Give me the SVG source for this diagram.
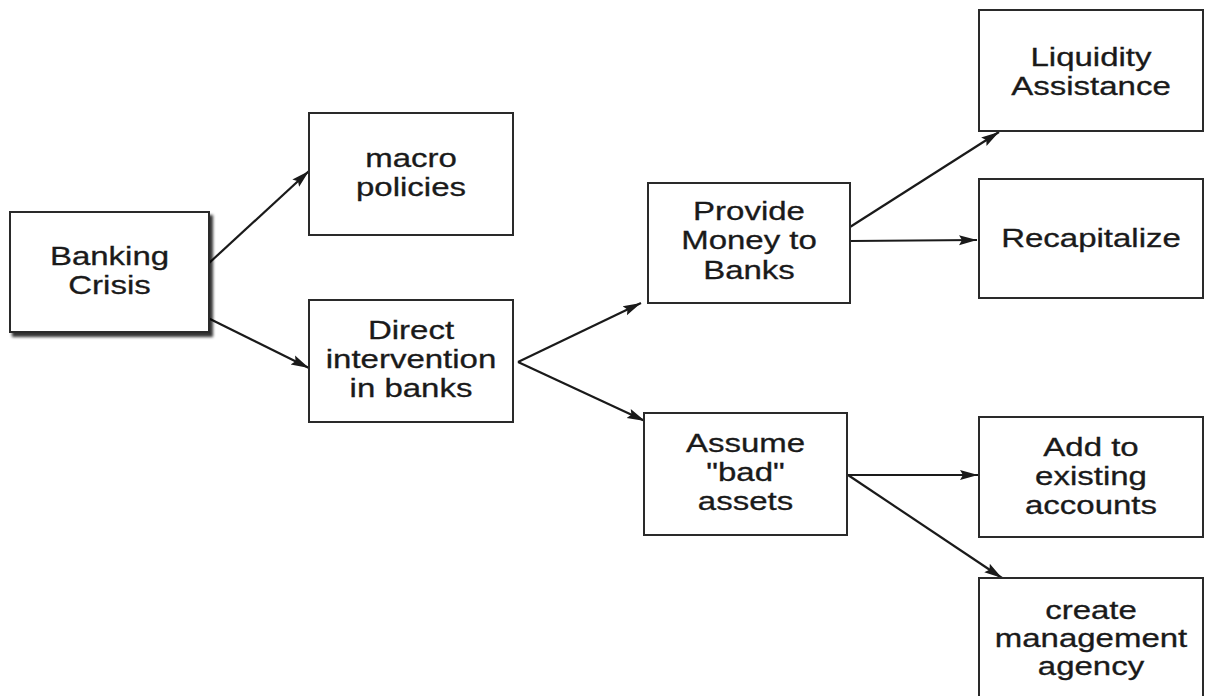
<svg xmlns="http://www.w3.org/2000/svg" width="1206" height="696" viewBox="0 0 1206 696">
<style>
.box{fill:#fff;stroke:#2a2a2a;stroke-width:2}
.lbl{font-family:"Liberation Sans",Arial,sans-serif;font-size:25px;fill:#1a1a1a;stroke:#1a1a1a;stroke-width:0.3;text-anchor:middle}
.conn line{stroke:#1a1a1a;stroke-width:2.2;fill:none}
</style>
<defs>
<marker id="ah" markerUnits="userSpaceOnUse" markerWidth="20" markerHeight="12" refX="18" refY="6" orient="auto">
<path d="M0,1 L18,6 L0,11 L3,6 Z" fill="#1a1a1a"/>
</marker>
<filter id="sh" x="-10%" y="-10%" width="130%" height="130%">
<feDropShadow dx="3" dy="4" stdDeviation="1.5" flood-color="#000" flood-opacity="0.8"/>
</filter>
</defs>
<rect width="1206" height="696" fill="#fff"/>
<g class="conn">
<line x1="208" y1="264" x2="309" y2="171" marker-end="url(#ah)"/>
<line x1="208" y1="318" x2="309" y2="368" marker-end="url(#ah)"/>
<line x1="518" y1="362" x2="641" y2="303" marker-end="url(#ah)"/>
<line x1="518" y1="362" x2="645" y2="421" marker-end="url(#ah)"/>
<line x1="850" y1="227" x2="999" y2="132" marker-end="url(#ah)"/>
<line x1="851" y1="241" x2="977" y2="240" marker-end="url(#ah)"/>
<line x1="848" y1="475" x2="978" y2="475" marker-end="url(#ah)"/>
<line x1="848" y1="475" x2="1002" y2="578" marker-end="url(#ah)"/>
</g>
<g id="banking-crisis">
<rect class="box" x="10" y="212" width="199" height="120" filter="url(#sh)"/>
<text class="lbl" transform="translate(109.5,0) scale(1.32,1)"><tspan x="0" y="265">Banking</tspan><tspan x="0" y="294">Crisis</tspan></text>
</g>
<g id="macro-policies">
<rect class="box" x="309" y="113" width="204" height="122"/>
<text class="lbl" transform="translate(411,0) scale(1.32,1)"><tspan x="0" y="167">macro</tspan><tspan x="0" y="196">policies</tspan></text>
</g>
<g id="direct-intervention">
<rect class="box" x="309" y="300" width="204" height="122"/>
<text class="lbl" transform="translate(411,0) scale(1.32,1)"><tspan x="0" y="339">Direct</tspan><tspan x="0" y="368">intervention</tspan><tspan x="0" y="397">in banks</tspan></text>
</g>
<g id="provide-money">
<rect class="box" x="648" y="183" width="202" height="120"/>
<text class="lbl" transform="translate(749,0) scale(1.32,1)"><tspan x="0" y="220">Provide</tspan><tspan x="0" y="249">Money to</tspan><tspan x="0" y="279">Banks</tspan></text>
</g>
<g id="assume-bad-assets">
<rect class="box" x="644" y="413" width="203" height="122"/>
<text class="lbl" transform="translate(745.5,0) scale(1.32,1)"><tspan x="0" y="452">Assume</tspan><tspan x="0" y="481">"bad"</tspan><tspan x="0" y="510">assets</tspan></text>
</g>
<g id="liquidity-assistance">
<rect class="box" x="979" y="10" width="224" height="121"/>
<text class="lbl" transform="translate(1091,0) scale(1.32,1)"><tspan x="0" y="66">Liquidity</tspan><tspan x="0" y="95">Assistance</tspan></text>
</g>
<g id="recapitalize">
<rect class="box" x="979" y="179" width="224" height="119"/>
<text class="lbl" transform="translate(1091,0) scale(1.32,1)"><tspan x="0" y="247">Recapitalize</tspan></text>
</g>
<g id="add-to-existing">
<rect class="box" x="979" y="417" width="224" height="120"/>
<text class="lbl" transform="translate(1091,0) scale(1.32,1)"><tspan x="0" y="456">Add to</tspan><tspan x="0" y="485">existing</tspan><tspan x="0" y="514">accounts</tspan></text>
</g>
<g id="create-agency">
<rect class="box" x="979" y="578" width="224" height="130"/>
<text class="lbl" transform="translate(1091,0) scale(1.32,1)"><tspan x="0" y="619">create</tspan><tspan x="0" y="647">management</tspan><tspan x="0" y="675">agency</tspan></text>
</g>
</svg>
